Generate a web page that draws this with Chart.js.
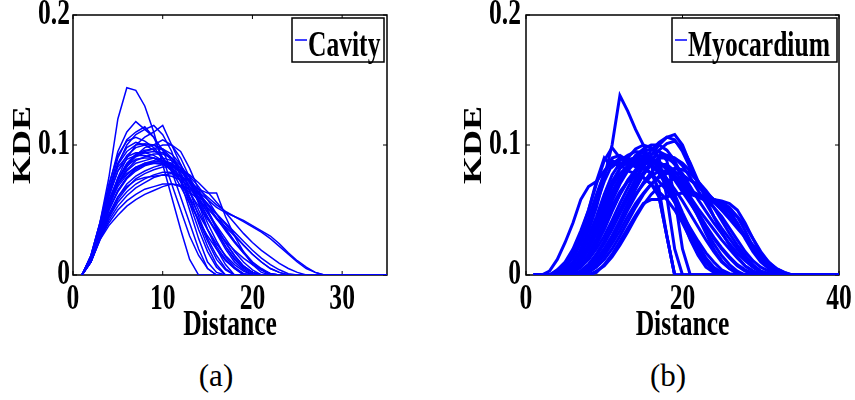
<!DOCTYPE html>
<html>
<head>
<meta charset="utf-8">
<script src="https://cdn.jsdelivr.net/npm/chart.js@4/dist/chart.umd.min.js"></script>
<style>
  html, body { margin: 0; padding: 0; background: #fff; }
  body { width: 855px; height: 400px; position: relative; overflow: hidden; }
  canvas { position: absolute; top: 0; }
  #chartA { left: 0; width: 420px; height: 350px; }
  #chartB { left: 430px; width: 425px; height: 350px; }
  .caption { position: absolute; top: 360px; width: 100px; text-align: center; font: 31px "Liberation Serif", serif; line-height: 31px; }
</style>
</head>
<body>
<canvas id="chartA" width="420" height="350"></canvas>
<canvas id="chartB" width="425" height="350"></canvas>
<div class="caption" style="left:166px">(a)</div>
<div class="caption" style="left:618px">(b)</div>
<script>
// KDE curves, one value per unit of distance starting at distance 1 (tail zeros omitted)
const cavityCurves = [
  [0, .015, .04, .075, .12, .144, .142, .13, .11, .085, .06, .035, .012, 0],
  [0, .014, .038, .068, .095, .11, .118, .112, .106, .096, .08, .06, .04, .02, .005, 0],
  [0, .013, .035, .062, .085, .1, .108, .112, .115, .108, .095, .075, .055, .035, .018, .006, 0],
  [0, .012, .032, .055, .075, .09, .1, .106, .11, .115, .1, .085, .065, .045, .028, .015, .005, 0],
  [0, .014, .037, .065, .09, .104, .11, .114, .106, .09, .07, .05, .03, .015, .005, 0],
  [0, .012, .03, .052, .07, .083, .092, .098, .1, .104, .1, .09, .075, .055, .035, .02, .008, 0],
  [0, .013, .034, .058, .074, .084, .089, .09, .09, .088, .083, .075, .065, .05, .035, .022, .012, .005, 0],
  [0, .012, .032, .054, .07, .08, .086, .088, .09, .088, .085, .078, .068, .056, .044, .032, .02, .01, .004, 0],
  [0, .011, .03, .05, .065, .075, .082, .086, .088, .09, .088, .082, .072, .06, .048, .036, .025, .015, .007, .002, 0],
  [0, .013, .034, .056, .07, .078, .083, .085, .086, .085, .082, .076, .068, .058, .048, .038, .028, .018, .01, .004, 0],
  [0, .01, .028, .046, .06, .07, .076, .08, .083, .085, .084, .08, .072, .062, .052, .043, .035, .026, .018, .01, .004, 0],
  [0, .011, .03, .05, .065, .075, .081, .085, .087, .088, .086, .08, .072, .066, .063, .063, .045, .03, .018, .008, .002, 0],
  [0, .01, .028, .044, .056, .064, .07, .074, .077, .079, .079, .076, .07, .064, .058, .052, .048, .045, .042, .038, .034, .03, .024, .017, .011, .006, .002, 0],
  [0, .01, .027, .042, .053, .061, .067, .071, .075, .077, .078, .076, .072, .066, .06, .054, .049, .045, .041, .037, .033, .028, .022, .016, .01, .005, .002, 0],
  [0, .01, .027, .038, .046, .053, .058, .062, .065, .068, .07, .069, .066, .06, .054, .047, .04, .033, .026, .019, .013, .008, .004, .001, 0],
  [0, .01, .028, .04, .05, .057, .062, .066, .068, .07, .07, .068, .064, .058, .051, .044, .037, .03, .023, .016, .01, .005, .002, 0],
  [0, .011, .03, .047, .06, .068, .073, .075, .076, .077, .076, .073, .068, .062, .055, .047, .039, .031, .023, .016, .01, .005, .002, 0],
  [0, .014, .038, .065, .085, .095, .1, .101, .1, .096, .088, .072, .05, .028, .01, .002, 0],
  [0, .013, .036, .06, .08, .092, .098, .1, .1, .097, .09, .078, .06, .04, .022, .008, 0],
  [0, .015, .04, .066, .083, .091, .094, .094, .092, .088, .082, .072, .058, .042, .026, .012, .004, 0],
  [0, .012, .032, .055, .074, .086, .093, .096, .097, .097, .093, .085, .072, .056, .04, .026, .014, .006, .001, 0],
  [0, .011, .031, .052, .07, .081, .088, .091, .093, .093, .09, .084, .075, .063, .05, .037, .025, .015, .007, .002, 0],
  [0, .011, .03, .05, .064, .074, .08, .084, .086, .086, .085, .082, .076, .068, .058, .047, .036, .026, .017, .009, .004, .001, 0],
  [0, .012, .033, .054, .068, .077, .083, .086, .087, .087, .085, .08, .073, .064, .054, .044, .034, .025, .017, .01, .005, .001, 0],
  [0, .015, .04, .07, .092, .103, .106, .103, .098, .09, .08, .068, .055, .042, .03, .02, .011, .005, .001, 0],
  [0, .014, .038, .064, .086, .098, .102, .1, .096, .09, .082, .072, .06, .047, .035, .024, .015, .008, .003, 0],
  [0, .012, .032, .054, .072, .085, .092, .095, .097, .1, .1, .095, .082, .066, .05, .035, .022, .012, .005, .001, 0],
  [0, .01, .028, .045, .058, .067, .074, .078, .081, .083, .083, .081, .077, .071, .064, .056, .048, .04, .032, .025, .019, .014, .009, .005, .002, 0],
  [0, .014, .037, .062, .08, .089, .092, .092, .09, .086, .08, .072, .063, .053, .043, .034, .026, .019, .013, .008, .004, .001, 0],
  [0, .012, .032, .055, .073, .085, .091, .094, .095, .094, .09, .082, .071, .058, .045, .033, .022, .013, .006, .002, 0]
]

const myocardiumCurves = [
  [0, 0, 0, 0, .004, .01, .02, .034, .052, .075, .1, .138, .126, .112, .1, .085, .06, .03, 0],
  [0, 0, 0, 0, 0, 0, .003, .008, .016, .026, .038, .05, .062, .073, .083, .092, .1, .106, .108, .1, .085, .07, .062, .058, .055, .05, .04, .028, .018, .01, .005, .002, 0],
  [0, 0, 0, 0, 0, .002, .006, .012, .02, .03, .042, .055, .067, .078, .088, .096, .102, .106, .104, .095, .082, .07, .062, .058, .056, .052, .045, .034, .022, .013, .007, .003, .001, 0],
  [0, 0, 0, .004, .01, .02, .034, .05, .07, .088, .098, .09, .085, .088, .09, .088, .082, .072, .06, .045, .03, .018, .009, .003, 0],
  [0, 0, .003, .012, .025, .04, .058, .068, .072, .08, .088, .085, .08, .078, .075, .07, .064, .058, .05, .04, .028, .018, .01, .004, 0],
  [0, 0, 0, .003, .009, .018, .032, .05, .072, .09, .083, .088, .092, .095, .094, .09, .083, .072, .058, .042, .027, .015, .006, .002, 0],
  [0, 0, 0, 0, .003, .008, .016, .028, .042, .058, .072, .082, .09, .097, .1, .098, .09, .06, .02, 0],
  [0, 0, 0, 0, 0, .004, .01, .02, .032, .046, .06, .072, .082, .09, .095, .097, .095, .088, .06, .02, 0],
  [0, 0, 0, 0, 0, 0, 0, 0, .002, .008, .016, .026, .036, .046, .055, .058, .058, .06, .062, .063, .062, .06, .057, .052, .045, .036, .027, .018, .011, .006, .003, .001, 0],
  [0, 0, 0, 0, 0, 0, .003, .008, .016, .026, .038, .05, .062, .074, .085, .093, .095, .092, .085, .075, .066, .06, .058, .056, .053, .048, .04, .03, .02, .012, .006, .002, 0],
  [0, 0, 0, 0, 0, 0, 0, .004, .009, .017, .027, .038, .05, .061, .071, .079, .085, .085, .08, .072, .065, .062, .06, .058, .055, .05, .045, .038, .028, .018, .01, .004, .001, 0],
  [0, 0, 0, .002, .006, .013, .024, .038, .055, .072, .085, .09, .088, .09, .092, .09, .084, .074, .062, .048, .035, .023, .013, .006, .002, 0],
  [0, 0, 0, 0, .002, .006, .013, .024, .038, .054, .07, .082, .089, .09, .088, .085, .08, .074, .066, .057, .047, .037, .027, .018, .01, .005, .002, 0],
  [0, 0, 0, 0, 0, .003, .008, .016, .028, .042, .057, .07, .08, .087, .09, .09, .087, .081, .073, .064, .055, .046, .037, .028, .02, .013, .007, .003, .001, 0],
  [0, 0, 0, 0, 0, 0, .002, .006, .012, .02, .03, .042, .055, .067, .077, .085, .09, .092, .09, .084, .075, .065, .055, .045, .036, .028, .02, .013, .007, .003, .001, 0],
  [0, 0, 0, 0, 0, 0, .003, .008, .015, .024, .035, .047, .059, .07, .079, .086, .09, .09, .086, .078, .068, .058, .049, .04, .032, .024, .017, .011, .006, .002, 0],
  [0, 0, 0, .003, .008, .016, .028, .044, .062, .078, .088, .083, .086, .09, .089, .085, .078, .068, .056, .044, .032, .021, .012, .005, .001, 0],
  [0, 0, 0, 0, .003, .009, .018, .03, .045, .062, .077, .086, .087, .083, .085, .087, .086, .082, .075, .066, .056, .045, .034, .024, .015, .008, .003, 0],
  [0, 0, 0, 0, 0, .003, .008, .016, .027, .04, .053, .064, .072, .076, .075, .07, .06, .03, 0],
  [0, 0, 0, 0, 0, 0, 0, .003, .008, .015, .024, .034, .045, .055, .063, .07, .075, .078, .079, .077, .073, .068, .062, .056, .05, .044, .037, .03, .023, .016, .01, .005, .002, 0],
  [0, 0, 0, 0, 0, 0, 0, 0, .003, .007, .014, .023, .033, .044, .054, .062, .068, .072, .074, .075, .073, .069, .064, .058, .052, .045, .038, .03, .022, .014, .008, .004, .001, 0],
  [0, 0, 0, 0, 0, 0, .002, .006, .012, .02, .03, .041, .052, .062, .07, .076, .08, .08, .076, .07, .064, .06, .058, .058, .057, .055, .05, .04, .028, .017, .009, .004, .001, 0],
  [0, 0, 0, 0, .002, .006, .013, .023, .036, .05, .064, .075, .082, .086, .088, .088, .086, .082, .076, .068, .058, .048, .038, .029, .021, .014, .008, .004, .001, 0],
  [0, 0, 0, 0, 0, .002, .006, .013, .023, .035, .049, .062, .073, .081, .086, .088, .087, .083, .077, .069, .06, .051, .043, .035, .027, .02, .013, .007, .003, 0],
  [0, 0, 0, .002, .007, .015, .027, .042, .06, .078, .09, .092, .088, .085, .082, .078, .072, .065, .056, .046, .036, .026, .017, .01, .004, .001, 0],
  [0, 0, 0, 0, .002, .005, .011, .02, .033, .048, .062, .074, .084, .092, .097, .1, .1, .096, .088, .075, .06, .045, .032, .02, .011, .005, .001, 0],
  [0, 0, 0, 0, 0, 0, .002, .005, .01, .018, .028, .04, .053, .066, .078, .088, .096, .101, .103, .098, .086, .072, .058, .045, .033, .023, .014, .007, .003, .001, 0],
  [0, 0, 0, 0, .002, .006, .013, .024, .038, .054, .068, .078, .084, .086, .084, .078, .066, .03, 0],
  [0, 0, 0, 0, 0, 0, 0, .002, .006, .012, .02, .03, .041, .052, .062, .07, .076, .08, .082, .081, .078, .072, .065, .057, .05, .043, .036, .029, .022, .015, .009, .005, .002, 0],
  [0, 0, 0, 0, 0, .003, .008, .015, .025, .037, .05, .062, .072, .08, .086, .09, .092, .092, .09, .086, .08, .072, .062, .052, .042, .032, .023, .015, .008, .003, .001, 0]
]

const cavityXTicks = [0, 10, 20, 30]
const myocardiumXTicks = [0, 20, 40]
const yTicks = [0, 0.1, 0.2]
const yTickLabels = ['0', '0.1', '0.2']

const BLUE = '#0000ff'
const FONT = 'Liberation Serif'
const SQUEEZE = 0.71 // the figure is stretched vertically, so text looks condensed

Chart.defaults.color = '#000'
Chart.defaults.font.family = FONT

function pad (values, length) {
  return values.concat(new Array(length - values.length).fill(0))
}

function toDatasets (curves, xMax, width) {
  return curves.map(c => ({
    data: pad(c, xMax).map((y, i) => ({ x: i + 1, y })),
    borderColor: BLUE,
    borderWidth: width,
    pointRadius: 0,
    tension: 0,
    fill: false
  }))
}

// squeeze every text horizontally in screen space
const condensedText = {
  id: 'condensedText',
  beforeInit (chart) {
    const ctx = chart.ctx
    const fill = ctx.fillText.bind(ctx)
    const measure = ctx.measureText.bind(ctx)
    ctx.fillText = (text, x, y, maxWidth) => {
      const m = ctx.getTransform()
      const p = m.transformPoint(new DOMPoint(x, y))
      ctx.save()
      ctx.setTransform(new DOMMatrix().translate(p.x, p.y).scale(SQUEEZE, 1).translate(-p.x, -p.y).multiply(m))
      fill(text, x, y)
      ctx.restore()
    }
    ctx.measureText = text => {
      const r = measure(text)
      return { width: r.width * SQUEEZE, actualBoundingBoxAscent: r.actualBoundingBoxAscent, actualBoundingBoxDescent: r.actualBoundingBoxDescent }
    }
  }
}

// box round the plot with inward ticks
const frame = {
  id: 'frame',
  beforeDatasetsDraw (chart) {
    const { ctx, chartArea: a, scales: { x, y } } = chart
    ctx.save()
    ctx.strokeStyle = '#000'
    ctx.lineWidth = 1.5
    ctx.strokeRect(a.left, a.top, a.right - a.left, a.bottom - a.top)
    ctx.beginPath()
    x.ticks.forEach(t => {
      const px = x.getPixelForValue(t.value)
      ctx.moveTo(px, a.bottom)
      ctx.lineTo(px, a.bottom - 4)
      ctx.moveTo(px, a.top)
      ctx.lineTo(px, a.top + 4)
    })
    y.ticks.forEach(t => {
      const py = y.getPixelForValue(t.value)
      ctx.moveTo(a.left, py)
      ctx.lineTo(a.left + 4, py)
      ctx.moveTo(a.right, py)
      ctx.lineTo(a.right - 4, py)
    })
    ctx.lineWidth = 1
    ctx.stroke()
    ctx.restore()
  }
}

const boxLegend = {
  id: 'boxLegend',
  afterDraw (chart, args, o) {
    const ctx = chart.ctx
    ctx.save()
    ctx.fillStyle = '#fff'
    ctx.fillRect(o.left, o.top, o.width, o.height)
    ctx.strokeStyle = '#000'
    ctx.lineWidth = 1.5
    ctx.strokeRect(o.left, o.top, o.width, o.height)
    ctx.beginPath()
    ctx.moveTo(o.left + 3, o.top + 22)
    ctx.lineTo(o.left + 15, o.top + 22)
    ctx.strokeStyle = BLUE
    ctx.stroke()
    ctx.font = 'bold 36px ' + FONT
    ctx.fillStyle = '#000'
    ctx.textAlign = 'left'
    ctx.textBaseline = 'alphabetic'
    ctx.fillText(o.text, o.left + 16, o.top + 38)
    ctx.restore()
  }
}

function panel (canvasId, curves, xMax, xTicks, p) {
  const xFont = { size: 36, weight: 'bold' }
  const yFont = { size: 36, weight: 'bold', lineHeight: 0.3 }
  return new Chart(document.getElementById(canvasId), {
    type: 'line',
    data: { datasets: toDatasets(curves, xMax, p.lineWidth) },
    options: {
      responsive: false,
      animation: false,
      events: [],
      layout: { padding: { left: 0, top: 15, right: p.padRight, bottom: 3 } },
      plugins: {
        legend: { display: false },
        tooltip: { enabled: false },
        boxLegend: p.legend
      },
      scales: {
        x: {
          type: 'linear',
          min: 0,
          max: xMax,
          afterBuildTicks: s => { s.ticks = xTicks.map(value => ({ value })) },
          afterFit: s => { s.height = 72 },
          grid: { display: false, drawTicks: false },
          border: { display: false },
          ticks: { padding: 3, font: xFont, maxRotation: 0, autoSkip: false },
          title: { display: true, text: 'Distance', padding: 0, font: xFont }
        },
        y: {
          min: 0,
          max: 0.2,
          afterBuildTicks: s => { s.ticks = yTicks.map(value => ({ value })) },
          afterFit: s => { s.width = p.axisWidth },
          grid: { display: false, drawTicks: false },
          border: { display: false },
          ticks: { padding: p.tickPad, font: yFont, callback: v => yTickLabels[yTicks.indexOf(v)] },
          title: { display: true, text: 'KDE', padding: { top: p.titlePad, bottom: 0 }, font: xFont }
        }
      }
    },
    plugins: [condensedText, frame, boxLegend]
  })
}

panel('chartA', cavityCurves, 35, cavityXTicks, {
  lineWidth: 1.5,
  padRight: 33,
  axisWidth: 73,
  tickPad: 3,
  titlePad: 2,
  legend: { text: 'Cavity', left: 292, top: 18, width: 92, height: 44 }
})

panel('chartB', myocardiumCurves, 40, myocardiumXTicks, {
  lineWidth: 3,
  padRight: 16,
  axisWidth: 96,
  tickPad: 5,
  titlePad: 23,
  legend: { text: 'Myocardium', left: 242, top: 18, width: 165, height: 44 }
})
</script>
</body>
</html>
